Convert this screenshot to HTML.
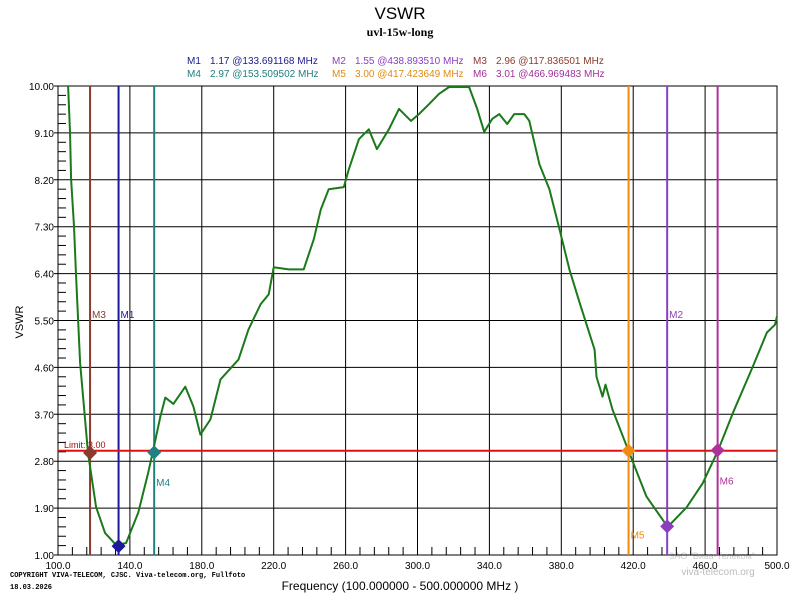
<!DOCTYPE html>
<html><head><meta charset="utf-8"><style>
body{margin:0;background:#fff;}
svg{display:block;font-family:"Liberation Sans",sans-serif;}
</style></head><body>
<svg id="chart" width="800" height="600" xmlns="http://www.w3.org/2000/svg">
<rect width="800" height="600" fill="#fff"/>
<text x="400" y="19" text-anchor="middle" font-size="17">VSWR</text>
<text x="400" y="36" text-anchor="middle" font-size="12" font-weight="bold" font-family="Liberation Serif,serif">uvl-15w-long</text>
<g font-size="10">
<g fill="#1a1a8c"><text x="187" y="64">M1</text><text x="210" y="64">1.17 @133.691168 MHz</text></g>
<g fill="#8a3fbf"><text x="332" y="64">M2</text><text x="355" y="64">1.55 @438.893510 MHz</text></g>
<g fill="#8b3a2e"><text x="473" y="64">M3</text><text x="496" y="64">2.96 @117.836501 MHz</text></g>
<g fill="#1f7f7f"><text x="187" y="77">M4</text><text x="210" y="77">2.97 @153.509502 MHz</text></g>
<g fill="#e08a10"><text x="332" y="77">M5</text><text x="355" y="77">3.00 @417.423649 MHz</text></g>
<g fill="#a0309a"><text x="473" y="77">M6</text><text x="496" y="77">3.01 @466.969483 MHz</text></g>
</g>
<text transform="translate(23,322) rotate(-90)" text-anchor="middle" font-size="11">VSWR</text>
<text x="400" y="590" text-anchor="middle" font-size="12">Frequency (100.000000 - 500.000000 MHz )</text>
<text x="10" y="577" font-size="7" font-family="Liberation Mono,monospace" font-weight="bold">COPYRIGHT VIVA-TELECOM, CJSC. Viva-telecom.org, Fullfoto</text>
<text x="10" y="589" font-size="7" font-family="Liberation Mono,monospace" font-weight="bold">18.03.2026</text>
<text x="712" y="559" text-anchor="middle" font-size="9" fill="#ccc">ЗАО "Вива-Телеком"</text>
<text x="718" y="575" text-anchor="middle" font-size="10" fill="#bbb">viva-telecom.org</text>
<g id="plot"></g>
</svg>
<script>
const freqs=[105.6,106.7,107.3,108.9,110.0,112.3,116.7,121.2,126.2,132.4,137.9,144.6,150.2,153.0,156.9,159.7,164.2,170.8,175.3,179.2,184.8,190.4,200.4,206.0,212.7,217.2,220.0,228.3,236.7,242.3,246.2,250.6,259.0,261.8,267.4,272.9,277.4,284.1,289.7,296.4,300.8,306.4,312.0,317.6,328.7,333.2,337.1,341.6,345.5,349.9,353.8,359.4,362.2,367.8,373.4,379.0,384.5,390.1,398.5,399.6,402.9,404.6,408.5,417.4,427.4,439.2,449.8,458.7,467.1,475.5,486.6,494.4,498.9,500];
const vswr=[10.0,9.12,8.21,7.31,6.38,4.69,2.96,1.92,1.42,1.19,1.23,1.81,2.58,3.02,3.65,4.02,3.90,4.23,3.85,3.31,3.60,4.37,4.75,5.33,5.81,6.0,6.52,6.48,6.48,7.06,7.63,8.02,8.06,8.40,8.98,9.17,8.79,9.17,9.56,9.33,9.46,9.65,9.85,9.98,9.98,9.56,9.12,9.37,9.46,9.27,9.46,9.46,9.33,8.50,8.02,7.25,6.48,5.85,4.94,4.42,4.04,4.27,3.79,3.0,2.12,1.54,1.92,2.38,3.0,3.73,4.62,5.27,5.42,5.58];
const xTicks=["100.0","140.0","180.0","220.0","260.0","300.0","340.0","380.0","420.0","460.0","500.0"];
const yTicks=["1.00","1.90","2.80","3.70","4.60","5.50","6.40","7.30","8.20","9.10","10.00"];
const markerNames=["M3","M1","M4","M5","M2","M6"];
const markerFreqs=[117.8365,133.6912,153.5095,417.4236,438.8935,466.9695];
const markerVals=[2.96,1.17,2.97,3.00,1.55,3.01];
const markerColors=["#8b3a2e","#1a1a9c","#1f8080","#f08a10","#8a3fbf","#b0309a"];
const markerLabelVals=[5.55,5.55,2.32,1.32,5.55,2.35];
const limitValue=3.0;
const L=58,R=777,T=86,B=555;
const X=f=>L+(f-100)/400*(R-L);
const Y=v=>B-(v-1)/9*(B-T);
const NS="http://www.w3.org/2000/svg";
const g=document.getElementById('plot');
function mk(tag,attrs){const e=document.createElementNS(NS,tag);for(const k in attrs)e.setAttribute(k,attrs[k]);g.appendChild(e);return e;}
for(let i=0;i<xTicks.length;i++){const x=X(100+i*40);
 const l=mk('line',{x1:x,y1:T,x2:x,y2:B,stroke:'#000','stroke-width':1});
 
 
 const t=mk('text',{x:x,y:569,'text-anchor':'middle','font-size':10});t.textContent=xTicks[i];
 
 
 if(i<xTicks.length-1)for(let j=1;j<5;j++){const xm=X(100+i*40+j*8);const m=mk('line',{x1:xm,y1:B,x2:xm,y2:B-8,stroke:'#000'});
  
  }
}
for(let i=0;i<yTicks.length;i++){const y=Y(1+i*0.9);
 const l=mk('line',{x1:L-4,y1:y,x2:R,y2:y,stroke:'#000','stroke-width':1});
 
 
 const t=mk('text',{x:L-4,y:y+4,'text-anchor':'end','font-size':10});t.textContent=yTicks[i];
 
 
 if(i<yTicks.length-1)for(let j=1;j<5;j++){const ym=Y(1+i*0.9+j*0.18);const m=mk('line',{x1:L,y1:ym,x2:L+8,y2:ym,stroke:'#000'});
  
  }
}
const fr=mk('rect',{x:L,y:T,width:R-L,height:B-T,fill:'none',stroke:'#000'});


for(let i=0;i<markerNames.length;i++){const x=X(markerFreqs[i]);
 const l=mk('line',{x1:x,y1:T,x2:x,y2:B,stroke:markerColors[i],'stroke-width':2});
 
 
 const t=mk('text',{x:x+2,y:Y(markerLabelVals[i]),'font-size':10,fill:markerColors[i]});t.textContent=markerNames[i];
 
 }
const ly=Y(limitValue);
const lim=mk('line',{x1:L,y1:ly,x2:R,y2:ly,stroke:'#e01010','stroke-width':2});


const lt=mk('text',{x:L+6,y:ly-3,'font-size':9,fill:'#a01010'});lt.textContent='Limit: 3.00';


const pts=freqs.map((f,i)=>X(f).toFixed(1)+','+Y(vswr[i]).toFixed(1)).join(' ');
const c=mk('polyline',{points:pts,fill:'none',stroke:'#1a7a1a','stroke-width':2,'stroke-linejoin':'round'});


for(let i=0;i<markerNames.length;i++){const x=X(markerFreqs[i]),y=Y(markerVals[i]);
 const d=mk('polygon',{points:`${x},${y-7} ${x+7},${y} ${x},${y+7} ${x-7},${y}`,fill:markerColors[i]});
 
 }
</script>
</body></html>
